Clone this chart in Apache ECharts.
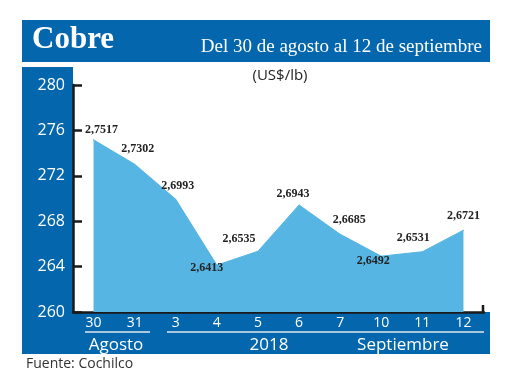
<!DOCTYPE html>
<html>
<head>
<meta charset="utf-8">
<script src="https://cdn.jsdelivr.net/npm/echarts@6/dist/echarts.min.js"></script>
<style>
html,body{margin:0;padding:0;background:#fff;}
#chart{width:520px;height:390px;}
</style>
</head>
<body>
<div id="chart"></div>
<script>
// ---- data ----
const categories = ['30', '31', '3', '4', '5', '6', '7', '10', '11', '12'];
const pricesUSD = [2.7517, 2.7302, 2.6993, 2.6413, 2.6535, 2.6943, 2.6685, 2.6492, 2.6531, 2.6721];
const yMin = 260, yMax = 280, yStep = 4;
const groupLabels = ['Agosto', '2018', 'Septiembre'];
const titleText = 'Cobre';
const subtitleText = 'Del 30 de agosto al 12 de septiembre';
const unitText = '(US$/lb)';
const sourceText = 'Fuente: Cochilco';

// ---- styling (label offsets relative to each point) ----
const labelOffsets = [[8,-10],[3,-15],[2,-13],[-10,3],[-19,-12],[-6,-11],[9,-14],[-8,5],[-9,-14],[0,-14]];

const BLUE = '#0467AE';
const AREA = '#56B5E3';
const sans = '"Open Sans", "Noto Sans", sans-serif';
const serif = '"Liberation Serif", "DejaVu Serif", serif';

const seriesData = pricesUSD.map((v, i) => ({
  value: Math.round(v * 10000) / 100,
  label: { offset: labelOffsets[i] }
}));

const chart = echarts.init(document.getElementById('chart'), null, { renderer: 'canvas' });
chart.setOption({
  animation: false,
  backgroundColor: '#fff',
  title: [
    { text: titleText, left: 27, top: 19, textStyle: { color: '#fff', fontFamily: serif, fontWeight: 'bold', fontSize: 31 } },
    { text: subtitleText, right: 33, top: 33, textStyle: { color: '#fff', fontFamily: serif, fontWeight: 'normal', fontSize: 19 } },
    { text: unitText, left: 275, textAlign: 'center', top: 63, textStyle: { color: '#222', fontFamily: sans, fontWeight: 'normal', fontSize: 15 } },
    { text: sourceText, left: 21, top: 352, textStyle: { color: '#333', fontFamily: sans, fontWeight: 'normal', fontSize: 14 } }
  ],
  graphic: [
    { type: 'rect', z: -100, shape: { x: 22, y: 20, width: 468, height: 42 }, style: { fill: BLUE } },
    { type: 'rect', z: -100, shape: { x: 22, y: 67, width: 51, height: 287 }, style: { fill: BLUE } },
    { type: 'rect', z: -100, shape: { x: 22, y: 312, width: 468, height: 42 }, style: { fill: BLUE } },
    { type: 'line', z: 10, shape: { x1: 483, y1: 305, x2: 483, y2: 313 }, style: { stroke: '#1a1a1a', lineWidth: 2.5 } },
    { type: 'line', z: 10, shape: { x1: 85, y1: 332, x2: 150, y2: 332 }, style: { stroke: '#dfe6ee', lineWidth: 1.5 } },
    { type: 'line', z: 10, shape: { x1: 167, y1: 332, x2: 484, y2: 332 }, style: { stroke: '#dfe6ee', lineWidth: 1.5 } },
    { type: 'text', z: 10, style: { text: groupLabels[0], x: 116, y: 345, align: 'center', verticalAlign: 'middle', fill: '#fff', font: '17px ' + sans } },
    { type: 'text', z: 10, style: { text: groupLabels[1], x: 269, y: 345, align: 'center', verticalAlign: 'middle', fill: '#fff', font: '17px ' + sans } },
    { type: 'text', z: 10, style: { text: groupLabels[2], x: 403, y: 345, align: 'center', verticalAlign: 'middle', fill: '#fff', font: '17px ' + sans } }
  ],
  grid: { left: 73, right: 36, top: 85, bottom: 78, containLabel: false },
  xAxis: {
    type: 'category',
    data: categories,
    boundaryGap: true,
    axisLine: { show: true, lineStyle: { color: '#1a1a1a', width: 2.5 } },
    axisTick: { show: false },
    axisLabel: { color: '#fff', fontFamily: sans, fontSize: 14, margin: 4 },
    splitLine: { show: false }
  },
  yAxis: {
    type: 'value',
    min: yMin, max: yMax, interval: yStep,
    axisLine: { show: true, lineStyle: { color: '#1a1a1a', width: 2.5 } },
    axisTick: { show: true, inside: true, length: 9, lineStyle: { color: '#1a1a1a', width: 2.5 } },
    axisLabel: { color: '#fff', fontFamily: sans, fontSize: 16, margin: 8 },
    splitLine: { show: false }
  },
  series: [{
    type: 'line',
    data: seriesData,
    symbol: 'circle',
    symbolSize: 1,
    showSymbol: true,
    itemStyle: { color: AREA },
    lineStyle: { color: AREA, width: 1 },
    areaStyle: { color: AREA, opacity: 1 },
    z: 3,
    label: {
      show: true,
      position: 'inside',
      color: '#222',
      fontFamily: serif,
      fontWeight: 'bold',
      fontSize: 12,
      formatter: p => pricesUSD[p.dataIndex].toFixed(4).replace('.', ',')
    }
  }]
});
</script>
</body>
</html>
